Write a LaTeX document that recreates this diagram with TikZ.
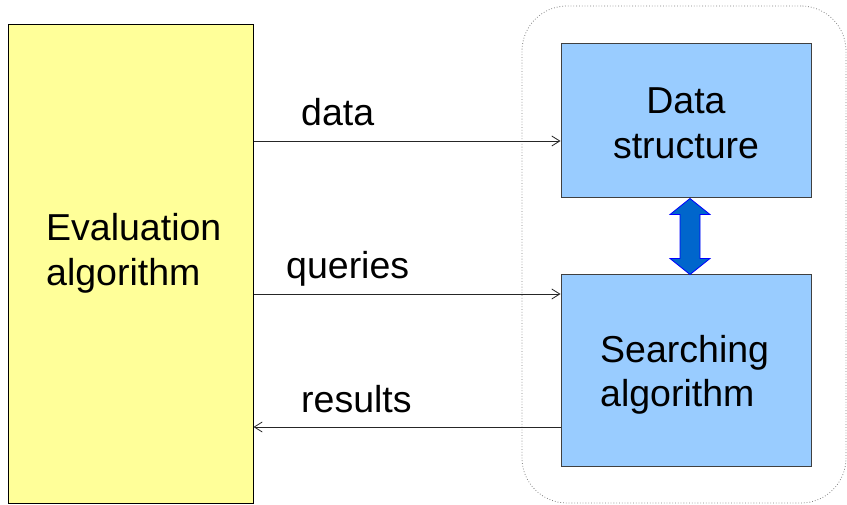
\documentclass[tikz,border=0pt]{standalone}
\usepackage{fontspec}
\setmainfont{Liberation Sans}
\usetikzlibrary{arrows.meta,calc}
\definecolor{evalyellow}{HTML}{FFFF99}
\definecolor{boxblue}{HTML}{99CCFF}
\definecolor{arrblue}{HTML}{0066CC}
\definecolor{edgegray}{HTML}{404040}
\tikzset{
  bigtext/.style={font=\fontsize{37.5}{44.5}\selectfont, inner sep=0pt},
  blockbox/.style={draw=edgegray, line width=1pt, fill=boxblue, minimum width=250pt, inner sep=0pt},
  flow/.style={draw=black!85, line width=0.8pt, -{Straight Barb[length=8pt,width=10pt,line width=0.8pt]}},
  lbl/.style={font=\fontsize{37.5}{44.5}\selectfont, inner sep=0pt, anchor=base west}
}
\begin{document}
\begin{tikzpicture}[x=1pt,y=-1pt]
\useasboundingbox (0,0) rectangle (847,505);
% container
\node[draw=gray, dotted, line width=0.8pt, rounded corners=45pt, minimum width=324pt, minimum height=497pt, inner sep=0pt] (cont) at (684,254.5) {};
% evaluation block
\node[draw=black, line width=1pt, fill=evalyellow, minimum width=245pt, minimum height=478pt, inner sep=0pt] (eval) at (130.5,264) {};
\node[bigtext, align=left, anchor=west] (evaltxt) at (46,253.5) {Evaluation\\algorithm};
% right blocks
\node[blockbox, minimum height=154pt] (ds) at (686,121) {};
\node[bigtext, align=center] (dstxt) at (686,123.5) {Data\\structure};
\node[blockbox, minimum height=191pt] (sa) at (686,370.5) {};
\node[bigtext, align=left, anchor=west] (satxt) at (600,375) {Searching\\algorithm};
% double arrow between boxes
\coordinate (dtop) at ($(ds.south)+(4,0)$);
\coordinate (dbot) at ($(sa.north)+(4,0)$);
\filldraw[fill=arrblue, draw=blue, line width=0.8pt, line join=miter]
  (dtop) -- ++(-20,16) -- ++(10,0) -- ($(dbot)+(-10,-16)$) -- ++(-10,0) -- (dbot)
  -- ++(20,-16) -- ++(-10,0) -- ($(dtop)+(10,16)$) -- ++(10,0) -- cycle;
% connectors
\coordinate (yd) at (0,141);
\coordinate (yq) at (0,294);
\coordinate (yr) at (0,427);
\draw[flow] (eval.east |- yd) -- (ds.west |- yd);
\draw[flow] (eval.east |- yq) -- (sa.west |- yq);
\draw[flow] (sa.west |- yr) -- (eval.east |- yr);
% labels
\node[lbl] (ldata) at (301,126) {data};
\node[lbl] (lquery) at (286,279) {queries};
\node[lbl] (lres) at (301,412) {results};
\end{tikzpicture}
\end{document}
